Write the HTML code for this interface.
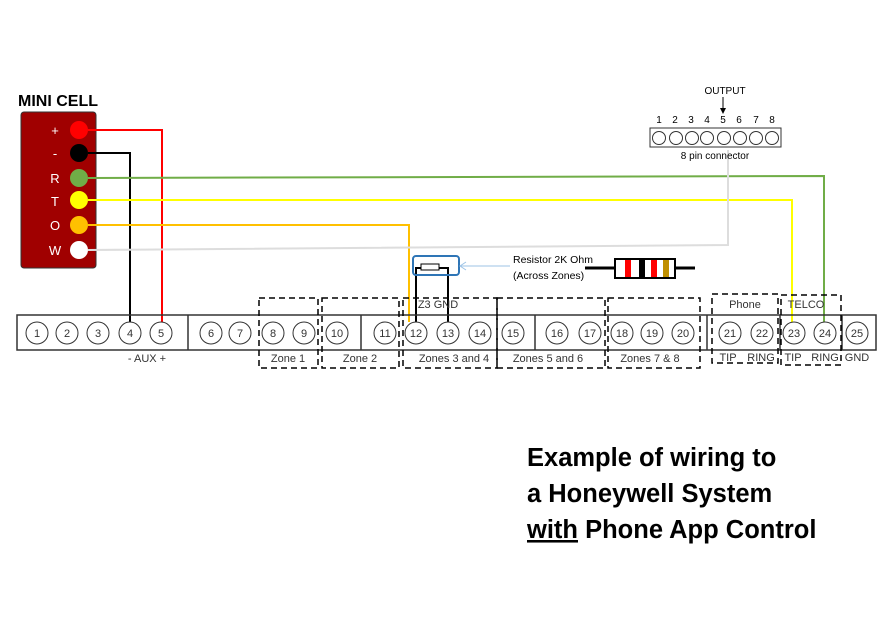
<!DOCTYPE html>
<html><head><style>body{margin:0;background:#fff}svg{display:block}text{font-family:"Liberation Sans",sans-serif}</style></head><body>
<svg width="895" height="637" viewBox="0 0 895 637" xmlns="http://www.w3.org/2000/svg">
<text x="18" y="106" font-size="16" font-weight="bold">MINI CELL</text>
<rect x="21" y="112" width="75" height="156" rx="3" fill="#a00000" stroke="#333"/>
<g fill="#fff" font-size="13" text-anchor="middle">
<text x="55" y="135">+</text><text x="55" y="158">-</text><text x="55" y="183">R</text><text x="55" y="206">T</text><text x="55" y="230">O</text><text x="55" y="255">W</text></g>
<g fill="none" stroke-width="2">
<polyline points="88,130 162,130 162,322" stroke="#f00"/>
<polyline points="88,153 130,153 130,322" stroke="#000"/>
<polyline points="88,178 824,176 824,322" stroke="#70ad47"/>
<polyline points="88,200 792,200 792,322" stroke="#ff0"/>
<polyline points="88,225 409,225 409,322" stroke="#ffc000"/>
<polyline points="88,250 728,245 728,150" stroke="#ddd"/>
<polyline points="416,322 416,268 421,268" stroke="#000"/>
<polyline points="448,322 448,268 439,268" stroke="#000"/>
</g>
<circle cx="79" cy="130" r="9" fill="#f00"/><circle cx="79" cy="153" r="9" fill="#000"/>
<circle cx="79" cy="178" r="9" fill="#70ad47"/><circle cx="79" cy="200" r="9" fill="#ff0"/>
<circle cx="79" cy="225" r="9" fill="#ffc000"/><circle cx="79" cy="250" r="9" fill="#fff"/>
<!-- 8 pin -->
<text x="725" y="94" font-size="10" text-anchor="middle">OUTPUT</text>
<line x1="723" y1="97" x2="723" y2="110" stroke="#000"/><path d="M720,108 L723,114 L726,108Z"/>
<rect x="650" y="128" width="131" height="19" fill="#fff" stroke="#333"/>
<g fill="none" stroke="#333"><circle cx="659" cy="138" r="6.5"/><circle cx="676" cy="138" r="6.5"/><circle cx="692" cy="138" r="6.5"/><circle cx="707" cy="138" r="6.5"/><circle cx="724" cy="138" r="6.5"/><circle cx="740" cy="138" r="6.5"/><circle cx="756" cy="138" r="6.5"/><circle cx="772" cy="138" r="6.5"/></g>
<g font-size="10" text-anchor="middle"><text x="659" y="123">1</text><text x="675" y="123">2</text><text x="691" y="123">3</text><text x="707" y="123">4</text><text x="723" y="123">5</text><text x="739" y="123">6</text><text x="756" y="123">7</text><text x="772" y="123">8</text>
<text x="715" y="159">8 pin connector</text></g>
<!-- resistor -->
<rect x="413" y="256" width="46" height="19" rx="3" fill="none" stroke="#2e75b6" stroke-width="2"/>
<rect x="421" y="264" width="18" height="6" fill="#fff" stroke="#000"/>
<line x1="460" y1="266" x2="510" y2="266" stroke="#9dc3e6"/><path d="M466,262 L460,266 L466,270" fill="none" stroke="#9dc3e6"/>
<text x="513" y="263" font-size="10.5">Resistor 2K Ohm</text><text x="513" y="279" font-size="10.5">(Across Zones)</text>
<line x1="585" y1="268" x2="695" y2="268" stroke="#000" stroke-width="3"/>
<rect x="615" y="259" width="60" height="19" fill="#fff" stroke="#000" stroke-width="2"/>
<rect x="625" y="260" width="6" height="17" fill="#f00"/><rect x="639" y="260" width="6" height="17" fill="#000"/><rect x="651" y="260" width="6" height="17" fill="#f00"/><rect x="663" y="260" width="6" height="17" fill="#bf8f00"/>
<!-- strip -->
<rect x="17" y="315" width="859" height="35" fill="none" stroke="#333" stroke-width="1.5"/>
<g stroke="#333" stroke-width="1.5"><line x1="188" y1="315" x2="188" y2="350"/><line x1="361" y1="315" x2="361" y2="350"/><line x1="535" y1="315" x2="535" y2="350"/><line x1="707" y1="315" x2="707" y2="350"/><line x1="780" y1="315" x2="780" y2="350"/><line x1="842" y1="315" x2="842" y2="350"/></g>
<g fill="none" stroke="#333">
<circle cx="37" cy="333" r="11"/><circle cx="67" cy="333" r="11"/><circle cx="98" cy="333" r="11"/><circle cx="130" cy="333" r="11"/><circle cx="161" cy="333" r="11"/><circle cx="211" cy="333" r="11"/><circle cx="240" cy="333" r="11"/><circle cx="273" cy="333" r="11"/><circle cx="304" cy="333" r="11"/><circle cx="337" cy="333" r="11"/><circle cx="385" cy="333" r="11"/><circle cx="416" cy="333" r="11"/><circle cx="448" cy="333" r="11"/><circle cx="480" cy="333" r="11"/><circle cx="513" cy="333" r="11"/><circle cx="557" cy="333" r="11"/><circle cx="590" cy="333" r="11"/><circle cx="622" cy="333" r="11"/><circle cx="652" cy="333" r="11"/><circle cx="683" cy="333" r="11"/><circle cx="730" cy="333" r="11"/><circle cx="762" cy="333" r="11"/><circle cx="794" cy="333" r="11"/><circle cx="825" cy="333" r="11"/><circle cx="857" cy="333" r="11"/></g>
<g font-size="11" text-anchor="middle" fill="#333">
<text x="37" y="337">1</text><text x="67" y="337">2</text><text x="98" y="337">3</text><text x="130" y="337">4</text><text x="161" y="337">5</text><text x="211" y="337">6</text><text x="240" y="337">7</text><text x="273" y="337">8</text><text x="304" y="337">9</text><text x="337" y="337">10</text><text x="385" y="337">11</text><text x="416" y="337">12</text><text x="448" y="337">13</text><text x="480" y="337">14</text><text x="513" y="337">15</text><text x="557" y="337">16</text><text x="590" y="337">17</text><text x="622" y="337">18</text><text x="652" y="337">19</text><text x="683" y="337">20</text><text x="730" y="337">21</text><text x="762" y="337">22</text><text x="794" y="337">23</text><text x="825" y="337">24</text><text x="857" y="337">25</text>
<text x="147" y="362">- AUX +</text><text x="288" y="362">Zone 1</text><text x="360" y="362">Zone 2</text><text x="454" y="362">Zones 3 and 4</text><text x="548" y="362">Zones 5 and 6</text><text x="650" y="362">Zones 7 &amp; 8</text>
<text x="728" y="361">TIP</text><text x="761" y="361">RING</text><text x="793" y="361">TIP</text><text x="825" y="361">RING</text><text x="857" y="361">GND</text>
<text x="745" y="308">Phone</text><text x="806" y="308">TELCO</text><text x="438" y="308">Z3  GND</text></g>
<g fill="none" stroke="#000" stroke-width="1.5" stroke-dasharray="6,4">
<rect x="259" y="298" width="59" height="70"/><rect x="322" y="298" width="77" height="70"/><rect x="403" y="298" width="94" height="70"/><rect x="497" y="298" width="108" height="70"/><rect x="608" y="298" width="92" height="70"/><rect x="712" y="294" width="66" height="69"/><rect x="781" y="295" width="60" height="70"/></g>
<g font-size="25.5" font-weight="bold" fill="#000">
<text x="527" y="466">Example of wiring to</text><text x="527" y="502">a Honeywell System</text><text x="527" y="538"><tspan text-decoration="underline">with</tspan> Phone App Control</text></g>
</svg>
</body></html>
